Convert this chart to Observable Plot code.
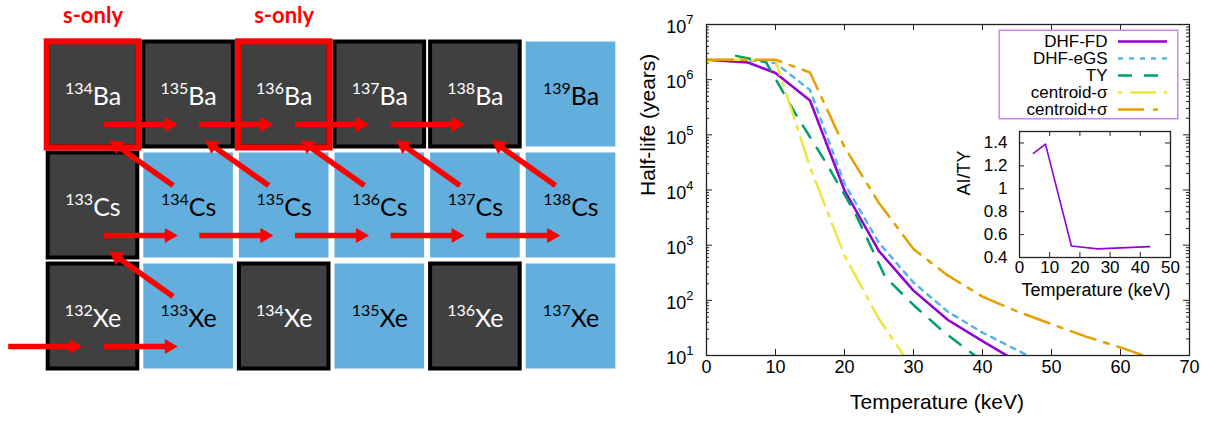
<!DOCTYPE html>
<html><head><meta charset="utf-8">
<script src="https://cdn.jsdelivr.net/npm/d3@7"></script>
<script src="https://cdn.jsdelivr.net/npm/@observablehq/plot@0.6"></script>
<style>
body{margin:0;background:#fff;}
#wrap{position:relative;width:1206px;height:423px;overflow:hidden;background:#fff;}
#wrap > svg{position:absolute;}
</style></head><body><div id="wrap"></div>
<script>
// ---------------- nuclide chart data ----------------
const rowElements = ["Ba", "Cs", "Xe"];
const rowFirstMass = [134, 133, 132];
const rowStable = [
  [true, true, true, true, true, false],
  [true, false, false, false, false, false],
  [true, false, true, false, true, false]
];
const sOnly = ["134Ba", "136Ba"];
const nCaptureFrom = ["134Ba","135Ba","136Ba","137Ba","133Cs","134Cs","135Cs","136Cs","137Cs","131Xe","132Xe"];
const betaDecayFrom = ["134Cs","135Cs","136Cs","137Cs","138Cs","133Xe"];

// ---------------- half-life curves (keV, years) ----------------
const fdT   = [0, 6, 10, 15, 20, 25, 30, 35, 40, 45];
const fdHL  = [2.3e6, 2.05e6, 1.32e6, 4.2e5, 9.8e3, 780, 150, 44, 18.2, 7.8];
const egsT  = [0, 5, 10, 15, 20, 25, 30, 35, 40, 45, 50];
const egsHL = [2.3e6, 2.3e6, 2.0e6, 6.5e5, 1.3e4, 1.1e3, 210, 62, 26, 12.5, 6];
const tyT   = [4.3, 8.6, 12.9, 17.2, 21.5, 25.9, 30.2, 34.5, 38.8, 43.1];
const tyHL  = [2.7e6, 2.1e6, 2.4e5, 3.3e4, 3.9e3, 265, 78, 26, 10.2, 4.6];
const cmT   = [0, 5, 10, 15, 20, 25, 30];
const cmHL  = [2.3e6, 2.3e6, 2.25e6, 2.6e4, 650, 46, 5.5];
const cpT   = [0, 5, 10, 15, 20, 25, 30, 35, 40, 45, 50, 55, 60, 65];
const cpHL  = [2.3e6, 2.3e6, 2.3e6, 1.35e6, 6.0e4, 5.8e3, 850, 280, 117, 63, 37, 22, 14, 8.5];
// inset: AI/TY ratio
const ratioT  = [4.6, 8.6, 17.2, 25.9, 43.1];
const ratioAI = [1.31, 1.39, 0.50, 0.475, 0.495];

const seriesNames  = ["DHF-FD", "DHF-eGS", "TY", "centroid-σ", "centroid+σ"];
const seriesColors = ["#9400d3", "#56b4e9", "#009e73", "#f0e442", "#e69f00"];
const seriesDash   = [null, "5,6", "14,12", "4,8,26,8", "26,9,5,9"];
const seriesData   = [[fdT, fdHL], [egsT, egsHL], [tyT, tyHL], [cmT, cmHL], [cpT, cpHL]];

const xTicks = [0, 10, 20, 30, 40, 50, 60, 70];
const yTickExp = [1, 2, 3, 4, 5, 6, 7];
const insetXTicks = [0, 10, 20, 30, 40, 50];
const insetYTicks = [0.4, 0.6, 0.8, 1, 1.2, 1.4];

// ---------------- build left panel ----------------
const wrap = document.getElementById("wrap");
function parseIso(s) {
  const m = s.match(/^(\d+)([A-Za-z]+)$/);
  const A = +m[1], el = m[2], row = rowElements.indexOf(el);
  return {A, el, row, col: A - rowFirstMass[row], label: s};
}
const cells = [];
rowElements.forEach((el, r) => rowStable[r].forEach((st, k) =>
  cells.push({label: `${rowFirstMass[r] + k}${el}`, row: r, col: k, stable: st})));
const sCells = sOnly.map(parseIso);

const LX = {domain: [-0.5, 5.5], range: [44.7, 618.3]};
const LY = {domain: [-0.5, 2.5], range: [38.5, 371.5]};
const kx = (LX.range[1] - LX.range[0]) / 6, ky = (LY.range[1] - LY.range[0]) / 3;
const headLen = 13;
function makeArrow(x1, y1, x2, y2) {
  const dxp = (x2 - x1) * kx, dyp = (y2 - y1) * ky, L = Math.hypot(dxp, dyp);
  const ux = dxp / L, uy = dyp / L, s = headLen / 1.5;
  return {x1, y1,
    sx2: x2 - ux * (headLen - 2) / kx, sy2: y2 - uy * (headLen - 2) / ky,
    hx: x2 - ux * s / kx, hy: y2 - uy * s / ky,
    angle: Math.atan2(ux, -uy) * 180 / Math.PI};
}
const arrows = [];
nCaptureFrom.forEach(s => { const p = parseIso(s);
  arrows.push(makeArrow(p.col + 0.113, p.row + 0.27, p.col + 0.887, p.row + 0.27)); });
betaDecayFrom.forEach(s => { const p = parseIso(s);
  arrows.push(makeArrow(p.col - 0.162, p.row - 0.18, p.col - 0.828, p.row - 0.586)); });

const red = "#ff0000";
const leftPlot = Plot.plot({
  width: 630, height: 423, margin: 0,
  x: {...LX, axis: null}, y: {...LY, axis: null},
  style: "font-family: Lato, 'Open Sans', sans-serif; background: transparent; overflow: visible;",
  marks: [
    Plot.rect(cells.filter(d => !d.stable), {x1: d => d.col - 0.5, x2: d => d.col + 0.5, y1: d => d.row - 0.5, y2: d => d.row + 0.5, inset: 3, fill: "#62aedc"}),
    Plot.rect(cells.filter(d => d.stable), {x1: d => d.col - 0.5, x2: d => d.col + 0.5, y1: d => d.row - 0.5, y2: d => d.row + 0.5, inset: 3, fill: "#404040", stroke: "#000", strokeWidth: 4}),
    Plot.rect(sCells, {x1: d => d.col - 0.5, x2: d => d.col + 0.5, y1: d => d.row - 0.5, y2: d => d.row + 0.5, inset: 2, insetTop: 2.8, fill: "none", stroke: red, strokeWidth: 6}),
    Plot.text(cells.filter(d => d.stable), {x: "col", y: "row", text: "label", dy: 10, lineAnchor: "bottom", fill: "white", fontSize: 25}),
    Plot.text(cells.filter(d => !d.stable), {x: "col", y: "row", text: "label", dy: 10, lineAnchor: "bottom", fill: "black", fontSize: 25}),
    Plot.text(sCells, {x: "col", y: d => d.row - 0.5, text: () => "s-only", dy: -16.5, lineAnchor: "bottom", fill: red, fontSize: 22, fontWeight: "bold"}),
    Plot.link(arrows, {x1: "x1", y1: "y1", x2: "sx2", y2: "sy2", stroke: red, strokeWidth: 5.5}),
    Plot.dot(arrows, {x: "hx", y: "hy", symbol: "triangle2", r: headLen / 1.5 / 1.2095, rotate: "angle", fill: red, stroke: "none"})
  ]
});
leftPlot.style.left = "0px"; leftPlot.style.top = "0px";
wrap.appendChild(leftPlot);
d3.select(leftPlot).selectAll("text").each(function () {
  const m = this.textContent.match(/^(\d+)([A-Z][a-z])$/);
  if (!m) return;
  const t = d3.select(this); t.text(null);
  t.append("tspan").attr("font-size", "16px").attr("dy", "-11").text(m[1]);
  t.append("tspan").attr("dy", "11").text(m[2]);
});

// ---------------- right main plot ----------------
const fontR = "font-family: 'Liberation Sans', Arial, sans-serif; background: transparent; overflow: visible;";
const mainW = 576, mainH = 423, mL = 76, mR = 17, mT = 24, mB = 68;
const fw = mainW - mL - mR, fh = mainH - mT - mB;
const majorY = yTickExp.map(e => 10 ** e);
const minorY = [];
for (let e = 1; e < 7; e++) for (let k = 2; k <= 9; k++) minorY.push(k * 10 ** e);
const axisColor = "#222";

const mainPlot = Plot.plot({
  width: mainW, height: mainH, marginLeft: mL, marginRight: mR, marginTop: mT, marginBottom: mB,
  x: {domain: [0, 70], axis: null},
  y: {type: "log", domain: [10, 1e7], axis: null},
  style: fontR,
  marks: [
    Plot.ruleX(xTicks, {insetTop: fh - 6, stroke: axisColor}),
    Plot.ruleX(xTicks, {insetBottom: fh - 6, stroke: axisColor}),
    Plot.ruleY(majorY, {insetRight: fw - 6, stroke: axisColor}),
    Plot.ruleY(majorY, {insetLeft: fw - 6, stroke: axisColor}),
    Plot.ruleY(minorY, {insetRight: fw - 3, stroke: axisColor}),
    Plot.ruleY(minorY, {insetLeft: fw - 3, stroke: axisColor}),
    ...seriesData.map(([T, H], i) => Plot.line(d3.zip(T, H), {
      x: d => d[0], y: d => d[1], stroke: seriesColors[i], strokeWidth: 2.5,
      strokeDasharray: seriesDash[i] || undefined, clip: true})),
    Plot.frame({stroke: axisColor, strokeWidth: 1.3}),
    Plot.text(xTicks, {x: d => d, frameAnchor: "bottom", dy: 17, text: d => String(d), fontSize: 18}),
    Plot.text(yTickExp, {y: d => 10 ** d, frameAnchor: "left", dx: -13, textAnchor: "end", text: d => `10^${d}`, fontSize: 18}),
    Plot.text(["Temperature (keV)"], {frameAnchor: "bottom", dy: 53, dx: -11, text: d => d, fontSize: 21}),
    Plot.text(["Half-life (years)"], {frameAnchor: "left", dx: -58, dy: 6, rotate: -90, text: d => d, fontSize: 21})
  ]
});
mainPlot.style.left = "630px"; mainPlot.style.top = "0px";
wrap.appendChild(mainPlot);
d3.select(mainPlot).selectAll("text").each(function () {
  const m = this.textContent.match(/^10\^(\d)$/);
  if (!m) return;
  const t = d3.select(this); t.text(null);
  t.append("tspan").attr("dy", "3").text("10");
  t.append("tspan").attr("dy", "-9").attr("font-size", "13px").text(m[1]);
});

// ---------------- legend ----------------
const legW = 180, legH = 90;
const legendPlot = Plot.plot({
  width: legW, height: legH, margin: 0,
  y: {type: "point", domain: seriesNames, range: [11, 81.7], padding: 0, axis: null},
  style: fontR,
  marks: [
    Plot.frame({stroke: "#cc88ee", strokeWidth: 1.5, inset: 0.75}),
    ...seriesNames.map((n, i) => Plot.ruleY([n], {y: d => d, insetLeft: 120, insetRight: 11,
      stroke: seriesColors[i], strokeWidth: 2.5, strokeDasharray: seriesDash[i] || undefined})),
    Plot.text(seriesNames, {y: d => d, text: d => d, frameAnchor: "left", dx: 109, textAnchor: "end", fontSize: 17})
  ]
});
legendPlot.style.left = "998px"; legendPlot.style.top = "29px";
wrap.appendChild(legendPlot);

// ---------------- inset ----------------
const inW = 250, inH = 190, iL = 79, iR = 20, iT = 11, iB = 53;
const ifw = inW - iL - iR, ifh = inH - iT - iB;
const insetPlot = Plot.plot({
  width: inW, height: inH, marginLeft: iL, marginRight: iR, marginTop: iT, marginBottom: iB,
  x: {domain: [0, 50], axis: null},
  y: {domain: [0.4, 1.5], axis: null},
  style: fontR,
  marks: [
    Plot.ruleX(insetXTicks, {insetTop: ifh - 5, stroke: axisColor}),
    Plot.ruleX(insetXTicks, {insetBottom: ifh - 5, stroke: axisColor}),
    Plot.ruleY(insetYTicks, {insetRight: ifw - 5, stroke: axisColor}),
    Plot.ruleY(insetYTicks, {insetLeft: ifw - 5, stroke: axisColor}),
    Plot.line(d3.zip(ratioT, ratioAI), {x: d => d[0], y: d => d[1], stroke: "#9400d3", strokeWidth: 1.6}),
    Plot.frame({stroke: axisColor, strokeWidth: 1.3}),
    Plot.text(insetXTicks, {x: d => d, frameAnchor: "bottom", dy: 15, text: d => String(d), fontSize: 17}),
    Plot.text(insetYTicks, {y: d => d, frameAnchor: "left", dx: -12, textAnchor: "end", text: d => String(d), fontSize: 17}),
    Plot.text(["Temperature (keV)"], {frameAnchor: "bottom", dy: 38, dx: 1, text: d => d, fontSize: 18}),
    Plot.text(["AI/TY"], {frameAnchor: "left", dx: -55, dy: 1, rotate: -90, text: d => d, fontSize: 18})
  ]
});
insetPlot.style.left = "940px"; insetPlot.style.top = "120px";
wrap.appendChild(insetPlot);
</script></body></html>
